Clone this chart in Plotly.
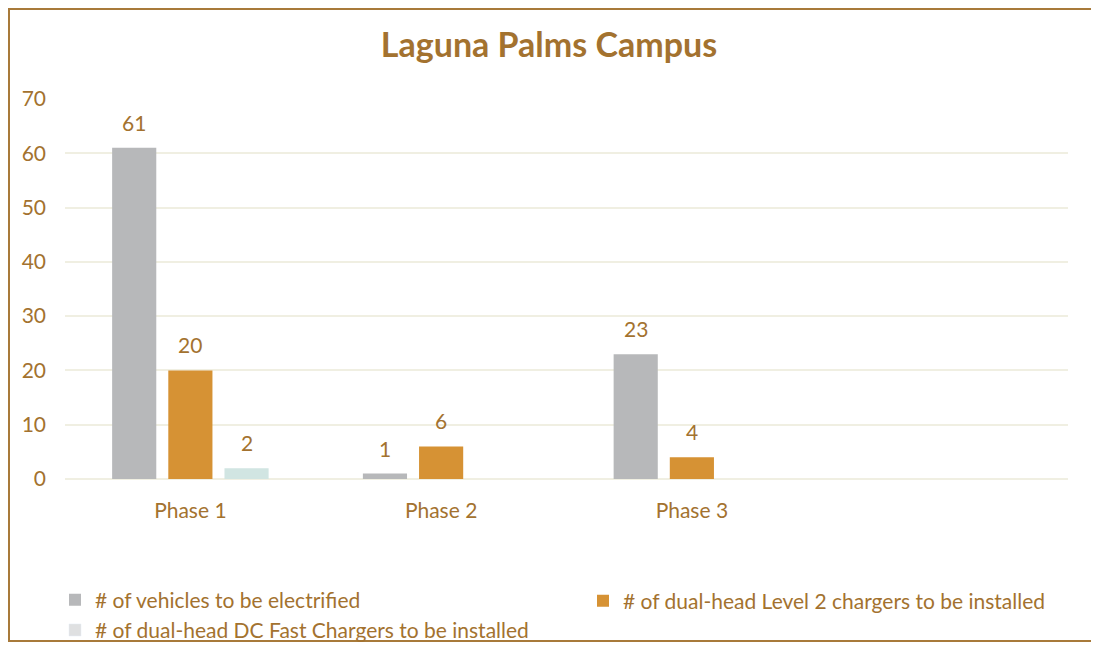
import plotly.graph_objects as go

# data
phases = ['Phase 1', 'Phase 2', 'Phase 3']
vehicles = [61, 1, 23]
level2_chargers = [20, 6, 4]
dc_fast_chargers = [2, None, None]

series_names = [
    '# of vehicles to be electrified',
    '# of dual-head Level 2 chargers to be installed',
    '# of dual-head DC Fast Chargers to be installed',
]
series_values = [vehicles, level2_chargers, dc_fast_chargers]
series_colors = ['#B7B8BA', '#D69234', '#D1E5E2']
legend_colors = ['#B7B8BA', '#D69234', '#DFE0E1']
series_legend = ['legend', 'legend2', 'legend']

y_ticks = [0, 10, 20, 30, 40, 50, 60, 70]

brown = '#A3722F'
font_family = 'Lato, Open Sans, sans-serif'

# the page sits 8px in from the window corner (body margin), so the figure is sized to fit
W, H = 1091, 660
ml, mr, mt, mb = 57, 31, 91, 189
pw, ph = W - ml - mr, H - mt - mb
plot_bottom = H - mb
bargap, bargroupgap = 0.328, 0.214
n_slots = 4
slot_px = pw / n_slots * (1 - bargap) / len(series_names)

fig = go.Figure()
annotations = []
for i, (name, vals, color, lcolor, lg) in enumerate(zip(series_names, series_values, series_colors,
                                                         legend_colors, series_legend)):
    fig.add_trace(go.Bar(
        x=phases, y=vals, name=name, legend=lg, offsetgroup=str(i),
        marker=dict(color=color, line=dict(width=0)),
        showlegend=(color == lcolor),
    ))
    if color != lcolor:
        # legend-only entry (swatch colour differs from the bar colour)
        fig.add_trace(go.Bar(x=phases, y=[None] * len(phases), name=name, legend=lg,
                             offsetgroup=str(i), marker=dict(color=lcolor)))
    for ph_name, v in zip(phases, vals):
        if v is None:
            continue
        annotations.append(dict(
            x=ph_name, y=v, xref='x', yref='y', text=str(v), showarrow=False,
            xanchor='center', yanchor='bottom', xshift=(i - 1) * slot_px, yshift=11,
            font=dict(size=21, color=brown, family=font_family),
        ))

fig.update_layout(
    width=W, height=H,
    margin=dict(l=ml, r=mr, t=mt, b=mb),
    paper_bgcolor='white', plot_bgcolor='white',
    barmode='group', bargap=bargap, bargroupgap=bargroupgap,
    font=dict(family=font_family, color=brown, size=21),
    title=dict(text='<b>Laguna Palms Campus</b>', x=541 / W, xref='container', xanchor='center',
               y=1 - 37 / H, yref='container', yanchor='middle',
               font=dict(size=34, color=brown, family=font_family)),
    xaxis=dict(type='category', range=[-0.5, n_slots - 0.5], showgrid=False, showline=False,
               ticks='', ticklabelstandoff=17, tickfont=dict(size=21, color=brown)),
    yaxis=dict(range=[0, 70], tickvals=y_ticks, showgrid=True, gridcolor='#F0EFE2', gridwidth=2,
               zeroline=True, zerolinecolor='#F0EFE2', zerolinewidth=2, showline=False,
               ticks='', ticklabelstandoff=18, tickfont=dict(size=21, color=brown)),
    legend=dict(orientation='v', x=(47 - ml) / pw, xanchor='left',
                y=(plot_bottom - 607) / ph, yanchor='middle',
                font=dict(size=21, color=brown), itemwidth=30, tracegroupgap=0,
                bgcolor='rgba(0,0,0,0)'),
    legend2=dict(orientation='v', x=(575 - ml) / pw, xanchor='left',
                 y=(plot_bottom - 593) / ph, yanchor='middle',
                 font=dict(size=21, color=brown), itemwidth=30,
                 bgcolor='rgba(0,0,0,0)'),
    annotations=annotations,
    shapes=[dict(type='rect', xref='paper', yref='paper',
                 x0=(1 - ml) / pw, x1=(1088 - ml) / pw,
                 y0=(plot_bottom - 633) / ph, y1=(plot_bottom - 1) / ph,
                 line=dict(color='#A87A3A', width=2), fillcolor='rgba(0,0,0,0)')],
)

fig.write_html('out.html')
